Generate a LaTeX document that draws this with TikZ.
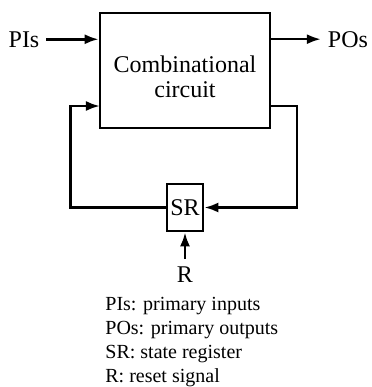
\documentclass[tikz,border=0pt]{standalone}
\usepackage{fontspec}
\setmainfont{Liberation Serif}
\usetikzlibrary{arrows.meta,positioning,calc}

\begin{document}
\begin{tikzpicture}[
  x=0.5pt, y=-0.5pt,
  box/.style={draw, line width=1.3pt, minimum width=85pt, minimum height=57.5pt},
  reg/.style={draw, line width=1.3pt, minimum width=18pt, minimum height=23.5pt, inner sep=0pt, font=\fontsize{12}{12.5}\selectfont},
  lbl/.style={font=\fontsize{12}{12.5}\selectfont},
  note/.style={anchor=base west, inner sep=0pt, font=\fontsize{10}{12}\selectfont},
  arrow/.style={-{Latex[length=7pt,width=5pt]}, line width=1.3pt}
]
\useasboundingbox (0,0) rectangle (371,387);
\node[box] (comb) at (185,70.5) {};
\node[lbl, align=center] (combtext) at ([yshift=-3pt]comb.center) {Combinational\\circuit};
\node[reg] (sr) at (185,207.5) {SR};
\node[lbl, anchor=base] (pis) at (24,47) {PIs};
\node[lbl, anchor=base] (pos) at (348,47) {POs};
\node[lbl, anchor=base] (r) at (185,282) {R};
\coordinate (fbout) at (270,106);
\coordinate (fbin) at (100,106);

\draw[arrow] (pis.east) -- (pis.east -| comb.west);
\draw[arrow] (pos.west -| comb.east) -- (pos.west);
\draw[arrow] (fbout) -- ++(27,0) |- (sr.east);
\draw[arrow] (sr.west) -- ++(-95,0) |- (fbin);
\draw[arrow] (r) -- (sr);

% legend
\node[note] (l1) at (105,310.7) {PIs: primary inputs};
\node[note] (l2) at (105,334.7) {POs: primary outputs};
\node[note] (l3) at (105,358.7) {SR: state register};
\node[note] (l4) at (105,382.7) {R: reset signal};
\end{tikzpicture}
\end{document}
